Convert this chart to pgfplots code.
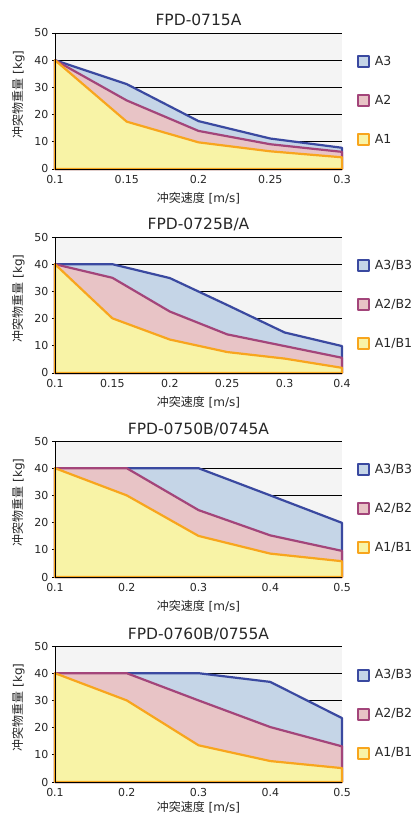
\documentclass[border=0pt]{standalone}
\usepackage{fontspec}
\setmainfont{DejaVu Sans}
\newfontfamily\cjk{Noto Sans CJK JP}
\usepackage{pgfplots}
\pgfplotsset{compat=1.18}

\definecolor{bgc}{HTML}{F4F4F4}
\definecolor{bfill}{HTML}{C5D5E7}
\definecolor{bline}{HTML}{3A49A0}
\definecolor{rfill}{HTML}{E8C4C6}
\definecolor{rline}{HTML}{A3457A}
\definecolor{yfill}{HTML}{F8F3A6}
\definecolor{yline}{HTML}{F8A51D}

\pgfplotsset{
 panel/.style={
  scale only axis, width=287pt, height=136pt,
  anchor=south west,
  ymin=0, ymax=50, ytick={0,10,...,50},
  axis lines*=left,
  axis line style={-, black, line width=0.9pt},
  ymajorgrids, grid style={black, line width=0.7pt},
  axis background/.style={fill=bgc},
  clip=false,
  tick label style={font=\fontsize{11}{11}\selectfont, text=black!85},
  /pgf/number format/assume math mode=true,
  ytick style={black, line width=0.7pt}, major tick length=3pt, tick align=outside,
  xtick style={draw=none},
  title style={font=\fontsize{15.5}{16}\selectfont, text=black!85, at={(0.5,1)}, anchor=base, yshift=1pt},
  xlabel style={font=\fontsize{12}{12}\selectfont, text=black!85},
  ylabel style={font=\fontsize{12}{12}\selectfont, text=black!85, at={(ticklabel cs:0.55)}},
  xlabel shift=2pt, ylabel shift=3pt,
  xlabel={{\cjk 冲突速度} [m/s]}, ylabel={{\cjk 冲突物重量} [kg]},
  legend style={draw=none, fill=none, at={(1.052,0.5)}, anchor=west, row sep=26pt,
     column sep=5pt, inner sep=0pt, outer sep=0pt,
     font=\fontsize{12.5}{12.5}\selectfont, text=black!85, nodes={inner sep=0pt}},
  legend cell align=left,
  legend image code/.code={\draw[#1, line width=2pt] (0pt,-5.5pt) rectangle (11pt,5.5pt);},
 },
 a3/.style={draw=bline, fill=bfill, line width=2.2pt, line join=round},
 a2/.style={draw=rline, fill=rfill, line width=2.2pt, line join=round},
 a1/.style={draw=yline, fill=yfill, line width=2.2pt, line join=round},
}
\newcommand{\axlines}{\draw[black, line width=0.9pt] (rel axis cs:0,1) -- (rel axis cs:0,0) -- (rel axis cs:1,0);}

\begin{document}
\begin{tikzpicture}
\path[use as bounding box] (0pt,0pt) rectangle (417pt,816pt);

% Panel 1
\begin{axis}[panel, at={(55pt,647pt)}, title={FPD-0715A},
  xmin=0, xmax=4, xtick={0,...,4},
  xticklabels={0.1,0.15,0.2,0.25,0.3}]
\addplot[a3] coordinates {(0,40) (1,31.2) (2,17.6) (3,11.2) (4,7.8)} \closedcycle;
\addlegendentry{A3}
\addplot[a2] coordinates {(0,40) (1,25.2) (2,14) (3,9.1) (4,6.3)} \closedcycle;
\addlegendentry{A2}
\addplot[a1] coordinates {(0,40) (1,17.4) (2,9.8) (3,6.5) (4,4.3)} \closedcycle;
\addlegendentry{A1}
\axlines
\end{axis}

% Panel 2
\begin{axis}[panel, at={(55pt,443pt)}, title={FPD-0725B/A},
  xmin=0, xmax=5, xtick={0,...,5},
  xticklabels={0.1,0.15,0.2,0.25,0.3,0.4}]
\addplot[a3] coordinates {(0,40) (1,40) (2,34.9) (3,25) (4,14.9) (5,9.9)} \closedcycle;
\addlegendentry{A3/B3}
\addplot[a2] coordinates {(0,40) (1,35) (2,22.6) (3,14.2) (4,9.9) (5,5.6)} \closedcycle;
\addlegendentry{A2/B2}
\addplot[a1] coordinates {(0,40) (1,20.1) (2,12.3) (3,7.7) (4,5.3) (5,1.9)} \closedcycle;
\addlegendentry{A1/B1}
\axlines
\end{axis}

% Panel 3
\begin{axis}[panel, at={(55pt,239pt)}, title={FPD-0750B/0745A},
  xmin=0, xmax=4, xtick={0,...,4},
  xticklabels={0.1,0.2,0.3,0.4,0.5}]
\addplot[a3] coordinates {(0,40) (1,40) (2,40) (3,30) (4,19.9)} \closedcycle;
\addlegendentry{A3/B3}
\addplot[a2] coordinates {(0,40) (1,40) (2,24.6) (3,15.3) (4,9.6)} \closedcycle;
\addlegendentry{A2/B2}
\addplot[a1] coordinates {(0,40) (1,30) (2,15.1) (3,8.6) (4,5.8)} \closedcycle;
\addlegendentry{A1/B1}
\axlines
\end{axis}

% Panel 4
\begin{axis}[panel, at={(55pt,34pt)}, title={FPD-0760B/0755A},
  xlabel shift=-2pt,
  xmin=0, xmax=4, xtick={0,...,4},
  xticklabels={0.1,0.2,0.3,0.4,0.5}]
\addplot[a3] coordinates {(0,40) (1,40) (2,40) (3,36.8) (4,23.5)} \closedcycle;
\addlegendentry{A3/B3}
\addplot[a2] coordinates {(0,40) (1,40) (2,30) (3,20.2) (4,13.1)} \closedcycle;
\addlegendentry{A2/B2}
\addplot[a1] coordinates {(0,40) (1,30) (2,13.5) (3,7.7) (4,5.1)} \closedcycle;
\addlegendentry{A1/B1}
\axlines
\end{axis}
\end{tikzpicture}
\end{document}
